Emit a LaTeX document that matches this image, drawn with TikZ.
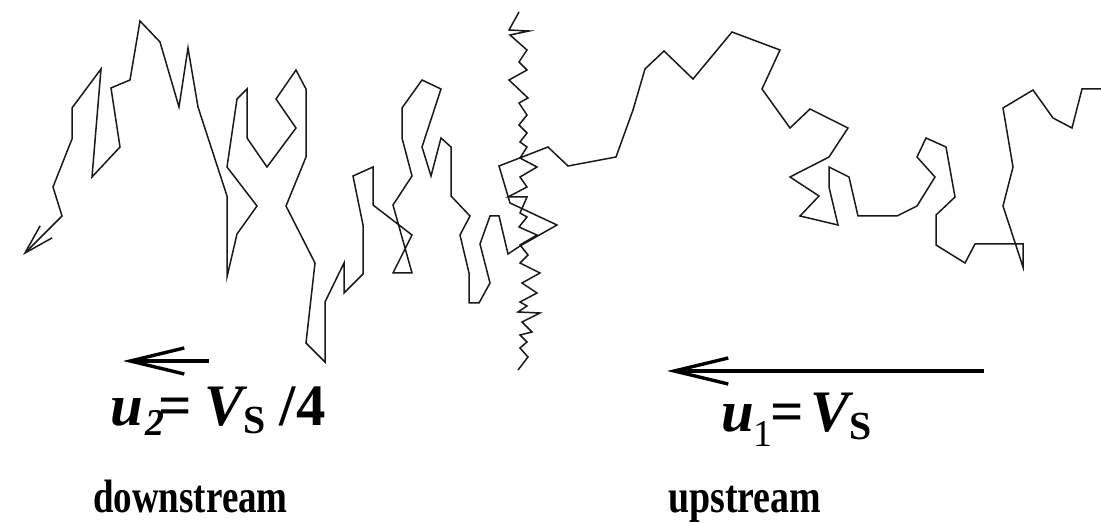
\documentclass[tikz,border=0pt]{standalone}
\usepackage{fontspec}
\setmainfont{Liberation Serif}
\usetikzlibrary{arrows.meta}
\begin{document}
\begin{tikzpicture}[x=1bp,y=-1bp,
  walk/.style={line width=1.5bp, line join=miter, draw=black!90,
    -{Straight Barb[length=30bp,width=17bp,line width=1.5bp]}},
  shockfront/.style={line width=1.5bp, line join=miter, draw=black!90},
  flowarrow/.style={line width=4.8bp, draw=black,
    -{Straight Barb[length=54bp,width=26bp,line width=3.4bp]}},
  mathlbl/.style={inner sep=0pt, anchor=base west, font=\fontsize{59}{62}\selectfont\bfseries},
  wordlbl/.style={inner sep=0pt, anchor=base west, font=\fontsize{47}{50}\selectfont\bfseries}]
\useasboundingbox (0,0) rectangle (1101,523);

% shock front: a jagged vertical line
\draw[shockfront] (519,12) -- (509,30) -- (529,31) -- (510,35) -- (527,50) -- (519,62)
  -- (527,70) -- (509,80) -- (528,98) -- (519,103) -- (527,115) -- (519,125)
  -- (527,133) -- (520,142) -- (527,147) -- (520,158) -- (537,167) -- (520,177)
  -- (527,187) -- (508,197) -- (527,197) -- (520,213) -- (527,217) -- (519,227)
  -- (537,235) -- (520,245) -- (528,255) -- (520,263) -- (540,273) -- (522,283)
  -- (537,293) -- (520,302) -- (527,306) -- (518,312) -- (540,313) -- (522,322)
  -- (532,332) -- (520,335) -- (527,342) -- (520,348) -- (528,357) -- (518,370);

% particle trajectory, entering upstream and ending downstream
\draw[walk] (1101,89) -- (1082,89) -- (1072,128) -- (1053,118) -- (1033,90)
  -- (1003,108) -- (1013,167) -- (1003,206) -- (1023,267) -- (1023,244)
  -- (975,244) -- (965,263) -- (936,245) -- (936,215) -- (955,197) -- (946,147)
  -- (926,138) -- (917,157) -- (935,177) -- (917,206) -- (897,216) -- (858,216)
  -- (849,177) -- (829,167) -- (829,187) -- (838,225) -- (800,216) -- (819,196)
  -- (790,177) -- (829,157) -- (848,128) -- (810,109) -- (790,128) -- (762,89)
  -- (780,50) -- (732,32) -- (693,79) -- (664,51) -- (645,69) -- (633,110)
  -- (616,157) -- (568,166) -- (548,147) -- (499,166) -- (510,203) -- (557,225)
  -- (520,246) -- (508,254) -- (499,216) -- (490,216) -- (480,244) -- (490,283)
  -- (479,303) -- (469,303) -- (469,273) -- (460,235) -- (470,216) -- (451,196)
  -- (451,147) -- (441,138) -- (431,176) -- (422,147) -- (441,89) -- (422,80)
  -- (402,108) -- (402,138) -- (412,176) -- (393,205) -- (412,273) -- (393,273)
  -- (412,235) -- (373,205) -- (373,167) -- (353,176) -- (363,225) -- (363,274)
  -- (344,293) -- (344,263) -- (325,302) -- (325,362) -- (306,343) -- (315,263)
  -- (286,206) -- (306,157) -- (306,89) -- (296,70) -- (276,99) -- (296,128)
  -- (267,167) -- (247,138) -- (247,89) -- (237,99) -- (227,167) -- (257,206)
  -- (237,234) -- (227,277) -- (227,196) -- (198,107) -- (188,48) -- (179,107)
  -- (160,42) -- (140,21) -- (130,80) -- (111,88) -- (120,147) -- (92,177)
  -- (101,69) -- (72,108) -- (72,139) -- (53,187) -- (62,216) -- (23,255);

% flow speed arrows
\coordinate (down-from) at (209,361);
\coordinate (down-to) at (123,361);
\coordinate (up-from) at (984,371);
\coordinate (up-to) at (667,371);
\draw[flowarrow] (down-from) -- (down-to);
\draw[flowarrow] (up-from) -- (up-to);

% labels
\node[mathlbl] (u2) at (110,425) {\itshape u\kern3bp\raisebox{-10bp}{\fontsize{38}{38}\selectfont 2}\kern-6bp\upshape=\kern12bp\itshape V\kern0bp\raisebox{-8bp}{\fontsize{40}{40}\selectfont\upshape S}\kern14bp\upshape/4};
\node[mathlbl] (u1) at (721,431) {\itshape u\kern0bp\raisebox{-15bp}{\fontsize{38}{38}\selectfont\mdseries\upshape 1}\kern-2bp\upshape=\kern6bp\itshape V\kern0bp\raisebox{-8bp}{\fontsize{40}{40}\selectfont\upshape S}};
\node[wordlbl] (dn) at (93,512) {\scalebox{0.79}[1]{downstream}};
\node[wordlbl] (up) at (668,512) {\scalebox{0.81}[1]{upstream}};
\end{tikzpicture}
\end{document}
